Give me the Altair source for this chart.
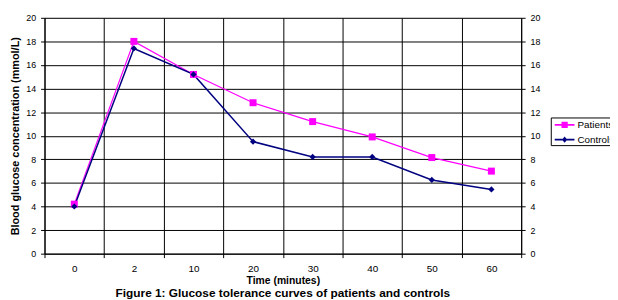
import altair as alt
import pandas as pd

times = ["0", "2", "10", "20", "30", "40", "50", "60"]
patients = [4.2, 18.0, 15.2, 12.8, 11.2, 9.9, 8.15, 7.0]
controls = [4.0, 17.4, 15.2, 9.5, 8.2, 8.2, 6.25, 5.45]
series_names = ["Patients", "Controls"]
series_colors = ["#FF00FF", "#000080"]
y_ticks = [0, 2, 4, 6, 8, 10, 12, 14, 16, 18, 20]

rows = []
for t, p, c in zip(times, patients, controls):
    rows.append({"time": t, "series": "Patients", "value": p})
    rows.append({"time": t, "series": "Controls", "value": c})
df = pd.DataFrame(rows)

FONT = "Liberation Sans"

# legend symbols: line segment + marker (unit coords, scaled by sqrt(size)/2)
sym_patients = ("M-0.47,-0.12H2.2V0.12H-0.47Z "
                "M0.45,-0.42H1.29V0.42H0.45Z")
sym_controls = ("M-0.47,-0.12H2.2V0.12H-0.47Z "
                "M0.87,-0.42L1.22,0L0.87,0.42L0.52,0Z")

x_enc = alt.X(
    "time:N", sort=times, bandPosition=0.5,
    scale=alt.Scale(type="band", paddingInner=0, paddingOuter=0),
    axis=alt.Axis(
        title="Time (minutes)", labelAngle=0, tickBand="extent", grid=True,
        gridColor="#000000", gridWidth=1, gridOpacity=1,
        domainColor="black", tickColor="black", tickSize=4,
        labelFont=FONT, labelFontSize=10, labelColor="black", labelPadding=6,
        titleFont=FONT, titleFontSize=10.5, titleFontWeight="bold",
        titleColor="black", titlePadding=2,
    ),
)

y_left = alt.Y(
    "value:Q",
    scale=alt.Scale(domain=[0, 20], nice=False),
    axis=alt.Axis(
        values=y_ticks, title="Blood glucose concentration (mmol/L)",
        grid=True, gridColor="black", gridOpacity=1, gridWidth=1,
        domainColor="black", tickColor="black", tickSize=4,
        labelFont=FONT, labelFontSize=9, labelColor="black", labelPadding=5,
        titleFont=FONT, titleFontSize=11, titleFontWeight="bold",
        titleColor="black", titlePadding=5,
    ),
)

y_right = alt.Y(
    "value:Q",
    scale=alt.Scale(domain=[0, 20], nice=False),
    axis=alt.Axis(
        orient="right", values=y_ticks, title=None, grid=False,
        domainColor="black", tickColor="black", tickSize=4,
        labelFont=FONT, labelFontSize=9, labelColor="black", labelPadding=5,
    ),
)

base = alt.Chart(df)

line_p = base.transform_filter(alt.datum.series == "Patients").mark_line(
    color=series_colors[0], strokeWidth=1.2).encode(x=x_enc, y=y_left)
line_c = base.transform_filter(alt.datum.series == "Controls").mark_line(
    color=series_colors[1], strokeWidth=1.5).encode(x=x_enc, y=y_left)
pts_p = base.transform_filter(alt.datum.series == "Patients").mark_point(
    shape="square", filled=True, color=series_colors[0], size=50, opacity=1
).encode(x=x_enc, y=y_left)
pts_c = base.transform_filter(alt.datum.series == "Controls").mark_point(
    shape="diamond", filled=True, color=series_colors[1], size=40, opacity=1
).encode(x=x_enc, y=y_left)

legend_props = dict(
    title=None, orient="none", legendX=513, legendY=101,
    fillColor="white", strokeColor="black", padding=0,
    symbolSize=225, symbolStrokeWidth=0, symbolOpacity=1,
    labelFont=FONT, labelFontSize=10, labelColor="black", labelOffset=12,
    rowPadding=2,
)
legend_layer = base.mark_point(filled=True, opacity=0).encode(
    x=x_enc, y=y_left,
    color=alt.Color("series:N", sort=series_names,
                    scale=alt.Scale(domain=series_names, range=series_colors),
                    legend=alt.Legend(**legend_props)),
    shape=alt.Shape("series:N", sort=series_names,
                    scale=alt.Scale(domain=series_names,
                                    range=[sym_patients, sym_controls]),
                    legend=alt.Legend(**legend_props)),
)

left = alt.layer(line_p, line_c, pts_p, pts_c, legend_layer)
right = base.mark_line(opacity=0).encode(x=x_enc, y=y_right)

chart = alt.layer(left, right).resolve_scale(y="independent").properties(
    width=483, height=239,
    autosize=alt.AutoSizeParams(type="none"),
    padding={"left": 37, "top": 8, "right": 90, "bottom": 45},
    title=alt.TitleParams(
        "Figure 1: Glucose tolerance curves of patients and controls",
        orient="bottom", anchor="middle", font=FONT, fontSize=12,
        fontWeight="bold", color="black", offset=2,
    ),
).configure_view(fill="#C0C0C0", stroke="black", strokeWidth=1
).configure(background="white")

chart.save("out.html", embed_options={"renderer": "svg", "actions": False})
